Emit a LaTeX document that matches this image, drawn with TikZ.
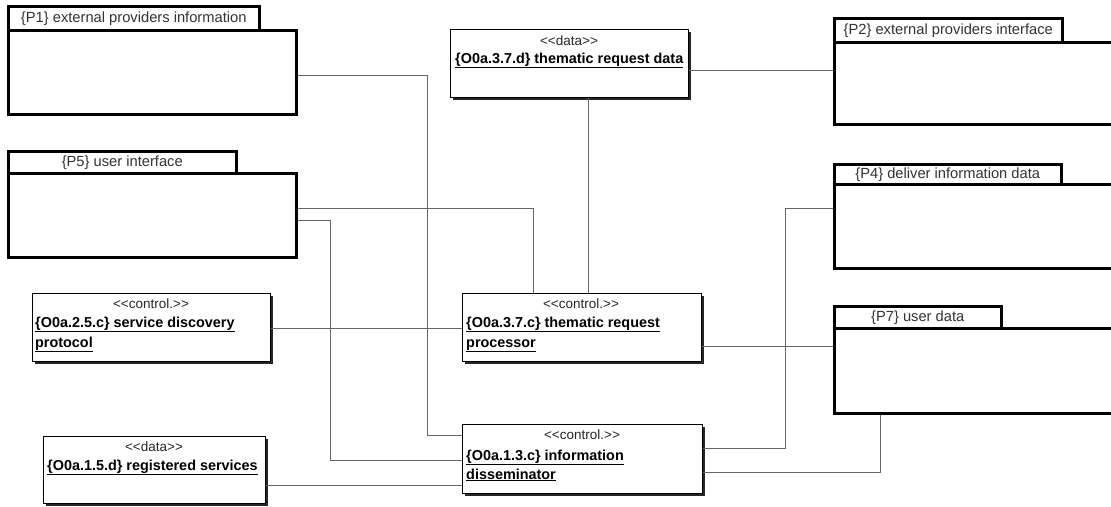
\documentclass[tikz,border=0pt]{standalone}
\usepackage{fontspec}
\setmainfont{Liberation Sans}
\usetikzlibrary{shadows}
\newcommand\sto[1]{\textless\kern0pt\textless #1\textgreater\kern0pt\textgreater}
\tikzset{
 pkgbody/.style={draw=black, line width=3pt, fill=white, rectangle, anchor=north west, inner sep=0pt},
 pkgtab/.style={draw=black, line width=2.5pt, fill=white, rectangle, anchor=north west, inner sep=0pt, font=\fontsize{14.7}{16}\selectfont, text=black!80},
 classbox/.style={draw=black, line width=0.8pt, fill=white, rectangle, anchor=north west, inner sep=0pt, drop shadow={shadow xshift=3pt, shadow yshift=-3pt, fill=black!85, opacity=1}},
 stereo/.style={font=\fontsize{13.5}{15}\selectfont, inner sep=0pt, anchor=center, text=black!85},
 cname/.style={font=\fontsize{14.4}{16}\selectfont\bfseries, inner sep=0pt, anchor=base west},
 conn/.style={draw=black!60, line width=0.9pt},
}
\begin{document}
\begin{tikzpicture}[x=1pt,y=-1pt]
\fill[white] (0,0) rectangle (1111,506);
\useasboundingbox (0,0) rectangle (1111,506);
\clip (0,0) rectangle (1111,506);
% packages
\node[pkgtab, minimum width=251pt, minimum height=24pt] (p1tab) at (7,5) {\{P1\} external providers information};
\node[pkgbody, minimum width=288pt, minimum height=84pt] (p1) at (7,29) {};
\node[pkgtab, minimum width=228pt, minimum height=24pt] (p2tab) at (833,17) {\{P2\} external providers interface};
\node[pkgbody, minimum width=290pt, minimum height=82pt] (p2) at (833,41) {};
\node[pkgtab, minimum width=228pt, minimum height=22pt] (p5tab) at (7,150) {\{P5\} user interface};
\node[pkgbody, minimum width=288pt, minimum height=84pt] (p5) at (7,172) {};
\node[pkgtab, minimum width=227pt, minimum height=20pt] (p4tab) at (833,163) {\{P4\} deliver information data};
\node[pkgbody, minimum width=290pt, minimum height=84pt] (p4) at (833,183) {};
\node[pkgtab, minimum width=167pt, minimum height=22pt] (p7tab) at (833,305) {\{P7\} user data};
\node[pkgbody, minimum width=290pt, minimum height=85pt] (p7) at (833,327) {};
% classes
\node[classbox, minimum width=238pt, minimum height=68pt] (tdata) at (450,29) {};
\node[stereo] (tdataS) at (569,41) {\sto{data}};
\node[cname] (tdataN) at (455,63) {\underline{\{O0a.3.7.d\} thematic request data}};
\node[classbox, minimum width=238pt, minimum height=68pt] (sdp) at (32,293) {};
\node[stereo] (sdpS) at (151,304) {\sto{control.}};
\node[cname] (sdpN1) at (35,327) {\underline{\{O0a.2.5.c\} service discovery}};
\node[cname] (sdpN2) at (35,347) {\underline{protocol}};
\node[classbox, minimum width=239pt, minimum height=68pt] (proc) at (462,293) {};
\node[stereo] (procS) at (581,304) {\sto{control.}};
\node[cname] (procN1) at (466,327) {\underline{\{O0a.3.7.c\} thematic request}};
\node[cname] (procN2) at (466,347) {\underline{processor}};
\node[classbox, minimum width=222pt, minimum height=67pt] (reg) at (43,436) {};
\node[stereo] (regS) at (154,447) {\sto{data}};
\node[cname] (regN) at (47,470) {\underline{\{O0a.1.5.d\} registered services}};
\node[classbox, minimum width=240pt, minimum height=69pt] (dis) at (462,424) {};
\node[stereo] (disS) at (582,435) {\sto{control.}};
\node[cname] (disN1) at (466,460) {\underline{\{O0a.1.3.c\} information}};
\node[cname] (disN2) at (466,479) {\underline{disseminator}};
% connectors
\draw[conn] (p1.east |- 0,75) -| (427,435) -- (dis.west |- 0,435);
\draw[conn] (tdata.east |- 0,70) -- (p2.west |- 0,70);
\draw[conn] (tdata.south -| 588,0) -- (proc.north -| 588,0);
\draw[conn] (p5.east |- 0,208) -| (proc.north -| 533,0);
\draw[conn] (p5.east |- 0,220) -| (330,460) -- (dis.west |- 0,460);
\draw[conn] (sdp.east |- 0,328) -- (proc.west |- 0,328);
\draw[conn] (proc.east |- 0,346) -- (p7.west |- 0,346);
\draw[conn] (dis.east |- 0,448) -| (785,208) -- (p4.west |- 0,208);
\draw[conn] (dis.east |- 0,472) -| (p7.south -| 880,0);
\draw[conn] (reg.east |- 0,485) -- (dis.west |- 0,485);
\end{tikzpicture}
\end{document}
